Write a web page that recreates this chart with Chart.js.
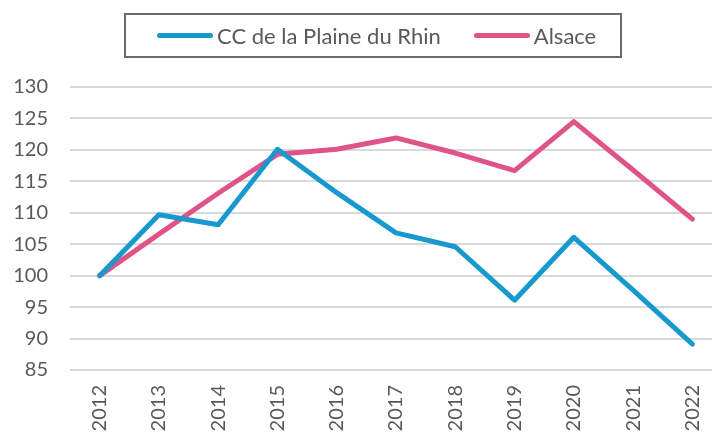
<!DOCTYPE html>
<html>
<head>
<meta charset="utf-8">
<script src="https://cdn.jsdelivr.net/npm/chart.js@4"></script>
<style>
  html, body { margin: 0; padding: 0; background: #fff; }
  #wrap { position: relative; width: 712px; height: 432px; overflow: hidden; }
  #chartBox { position: absolute; left: 0; top: 0; width: 722px; height: 432px; }
  #legend {
    position: absolute; left: 124px; top: 13px; width: 498px; height: 45px;
    box-sizing: border-box; border: 2px solid #6b6b6b;
    display: flex; align-items: center; padding-left: 31px;
    font-family: Lato, sans-serif; font-size: 22px; color: #595959;
  }
  .item { display: flex; align-items: center; }
  .item + .item { margin-left: 33px; }
  .swatch { width: 56px; height: 5px; border-radius: 3px; margin-right: 4px; }
</style>
</head>
<body>
<div id="wrap">
  <div id="chartBox"><canvas id="myChart" width="722" height="432"></canvas></div>
  <div id="legend"></div>
</div>
<script>
var years = ['2012', '2013', '2014', '2015', '2016', '2017', '2018', '2019', '2020', '2021', '2022'];
var seriesNames = ['CC de la Plaine du Rhin', 'Alsace'];
var ccPlaine = [100, 109.7, 108.1, 120.1, 113.2, 106.8, 104.6, 96.1, 106.1, 97.7, 89.1];
var alsace = [100, 106.6, 113.1, 119.3, 120.1, 121.9, 119.5, 116.7, 124.5, 116.8, 109.0];
var colors = ['#1799cf', '#e05389'];

var textColor = '#595959';
var font = { family: 'Lato, sans-serif', size: 20 };

var lineChartData = {
    type: 'line',
    data: {
        labels: years,
        datasets: [{
            label: seriesNames[0],
            data: ccPlaine,
            borderColor: colors[0],
            backgroundColor: colors[0]
        }, {
            label: seriesNames[1],
            data: alsace,
            borderColor: colors[1],
            backgroundColor: colors[1]
        }]
    },
    options: {
        responsive: false,
        animation: false,
        layout: { padding: { top: 87, left: 0, right: 0, bottom: 0 } },
        elements: {
            line: { borderWidth: 5, tension: 0, borderCapStyle: 'round', borderJoinStyle: 'round' },
            point: { radius: 0, hoverRadius: 0 }
        },
        plugins: {
            legend: { display: false },
            tooltip: { enabled: false }
        },
        scales: {
            x: {
                offset: true,
                grid: { display: false, drawTicks: false },
                border: { display: false },
                ticks: { color: textColor, font: font, minRotation: 90, maxRotation: 90, padding: 15 },
                afterFit: function(scale) {
                    scale.height = 62;
                    scale.paddingLeft = 0;
                    scale.paddingRight = 0;
                }
            },
            y: {
                min: 85,
                max: 130,
                grid: { color: '#d9d9d9', lineWidth: 2, drawTicks: false },
                border: { display: false },
                ticks: { stepSize: 5, color: textColor, font: font, padding: 22 },
                afterFit: function(scale) { scale.width = 70; }
            }
        }
    }
};

var ctx = document.getElementById('myChart').getContext('2d');
var myChart = new Chart(ctx, lineChartData);

// legend built from the series arrays
var legend = document.getElementById('legend');
for (var i = 0; i < seriesNames.length; i++) {
    var item = document.createElement('div');
    item.className = 'item';
    var sw = document.createElement('span');
    sw.className = 'swatch';
    sw.style.background = colors[i];
    item.appendChild(sw);
    item.appendChild(document.createTextNode(seriesNames[i]));
    legend.appendChild(item);
}
</script>
</body>
</html>
